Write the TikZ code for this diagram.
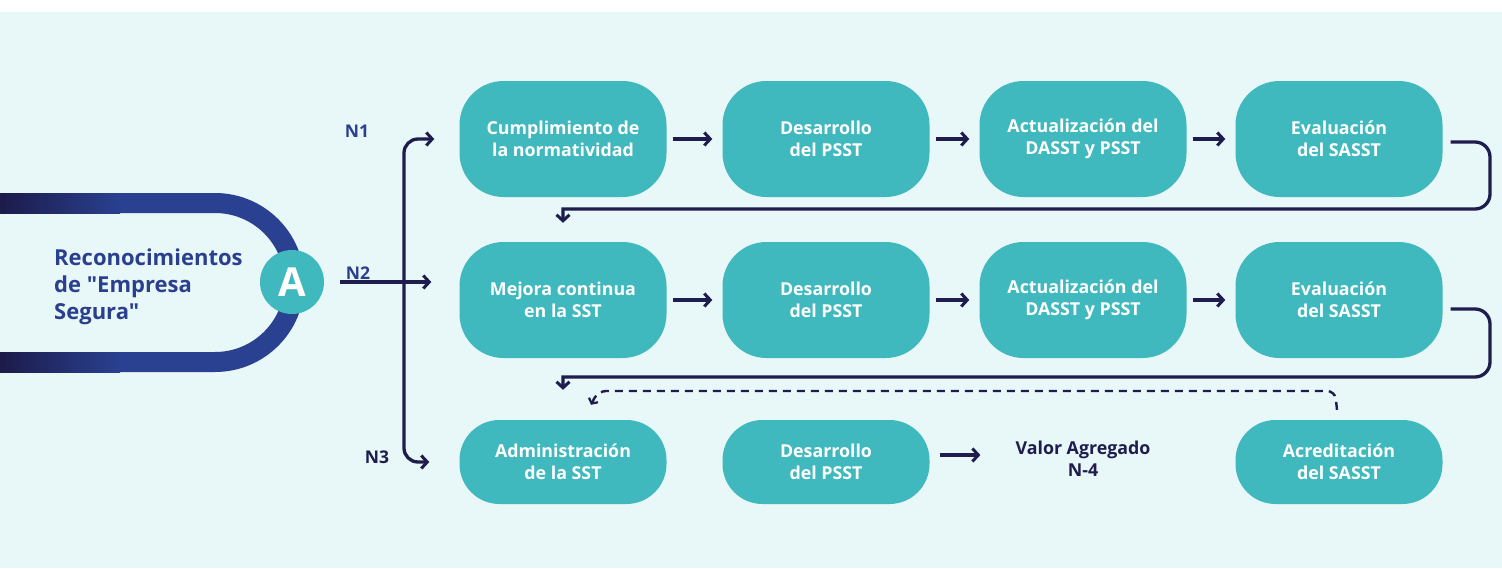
\documentclass[tikz,border=0pt]{standalone}
\usepackage{fontspec}
\setmainfont{Open Sans}[Ligatures=TeXOff]
\usetikzlibrary{arrows.meta,calc}
\definecolor{bgc}{HTML}{E8F7F7}
\definecolor{teal}{HTML}{40B9BE}
\definecolor{navy}{HTML}{1E1D4E}
\definecolor{bluet}{HTML}{2B3F8F}
\definecolor{band}{HTML}{2A4090}
\definecolor{banddark}{HTML}{1C1B4A}
\tikzset{
  tip/.tip={Straight Barb[length=6pt,width=13pt,line width=3pt]},
  stepbox/.style={rectangle, rounded corners=44pt, fill=teal, text=white, minimum width=207pt, minimum height=116pt, align=center, font=\fontsize{17.8}{22}\selectfont\bfseries, inner sep=0pt},
  lowbox/.style={stepbox, minimum height=84pt, rounded corners=40pt},
  conn/.style={draw=navy, line width=3.3pt, -tip},
  lbl/.style={font=\fontsize{17.5}{20}\selectfont\bfseries, inner sep=0pt},
}
\begin{document}
\begin{tikzpicture}[x=1pt,y=-1pt]
\useasboundingbox (0,0) rectangle (1502,568);
\fill[bgc] (0,12) rectangle (1502,568);
% band
\fill[band] (0,193) -- (215,193) arc[start angle=-90,end angle=90,radius=89.5] -- (0,372) -- (0,352) -- (215,352) arc[start angle=90,end angle=-90,radius=69.5] -- (0,213) -- cycle;
\fill[left color=banddark,right color=band] (0,193) rectangle (120,213);
\fill[left color=banddark,right color=band] (0,352) rectangle (120,372);
\node[anchor=west, align=left, text=bluet, font=\fontsize{22}{27}\selectfont\bfseries, inner sep=0pt] (title) at (54,287) {Reconocimientos\\de "Empresa\\Segura"};
\node[circle, fill=teal, minimum size=64pt, inner sep=0pt, text=white, font=\fontsize{40}{40}\selectfont\bfseries] (A) at (292,282) {A};
% boxes
\node[stepbox] (b11) at (563,139) {Cumplimiento de\\la normatividad};
\node[stepbox] (b12) at (826,139) {Desarrollo\\del PSST};
\node[stepbox] (b13) at (1083,139) {Actualización del\\DASST y PSST};
\node[stepbox] (b14) at (1339,139) {Evaluación\\del SASST};
\node[stepbox] (b21) at (563,300) {Mejora continua\\en la SST};
\node[stepbox] (b22) at (826,300) {Desarrollo\\del PSST};
\node[stepbox] (b23) at (1083,300) {Actualización del\\DASST y PSST};
\node[stepbox] (b24) at (1339,300) {Evaluación\\del SASST};
\node[lowbox] (b31) at (563,462) {Administración\\de la SST};
\node[lowbox] (b32) at (826,462) {Desarrollo\\del PSST};
\node[align=center, text=navy, font=\fontsize{17.8}{22}\selectfont\bfseries, inner sep=0pt] (va) at (1083,459) {Valor Agregado\\N-4};
\node[lowbox] (b34) at (1339,462) {Acreditación\\del SASST};
% labels
\node[lbl, text=bluet] (n1) at (357,131) {N1};
\node[lbl, text=bluet] (n2) at (358,273) {N2};
\node[lbl, text=navy] (n3) at (377,457) {N3};
% row arrows
\foreach \a/\b in {b11/b12,b12/b13,b13/b14,b21/b22,b22/b23,b23/b24}
  \draw[conn] ([xshift=6pt]\a.east) -- ([xshift=-10pt]\b.west);
\draw[conn] ([xshift=10pt,yshift=7pt]b32.east) -- ([xshift=-35pt,yshift=7pt]b32.east -| va.west);
% bracket
\draw[conn, tip-tip, rounded corners=14pt] ([xshift=-25pt]b11.west) -| (404,300) |- ([xshift=-30pt]b31.west);
\draw[conn] ([xshift=16pt]A.east) -- ([xshift=-28pt]b21.west |- A.center);
% return connectors
\coordinate (r1) at (1490,209);
\draw[conn] ([xshift=8pt,yshift=-3pt]b14.east) [rounded corners=15pt] -- (1490,142) -- (r1) -- (700,209) [sharp corners] -- (563,209) -- ([yshift=19pt]b21.north);
\coordinate (r2) at (1490,377);
\draw[conn] ([xshift=8pt,yshift=-9pt]b24.east) [rounded corners=15pt] -- (1490,309) -- (r2) -- (700,377) [sharp corners] -- (563,377) -- ([yshift=30pt]b31.north);
% dashed
\draw[draw=navy, line width=2.4pt, dash pattern=on 8pt off 6pt, rounded corners=8pt, -{Straight Barb[length=4pt,width=10pt,line width=2.2pt]}] ([xshift=-2pt,yshift=10pt]b34.north) -- (1335,391) -- (598,391) -- ([xshift=28pt,yshift=15pt]b31.north);
\end{tikzpicture}
\end{document}
